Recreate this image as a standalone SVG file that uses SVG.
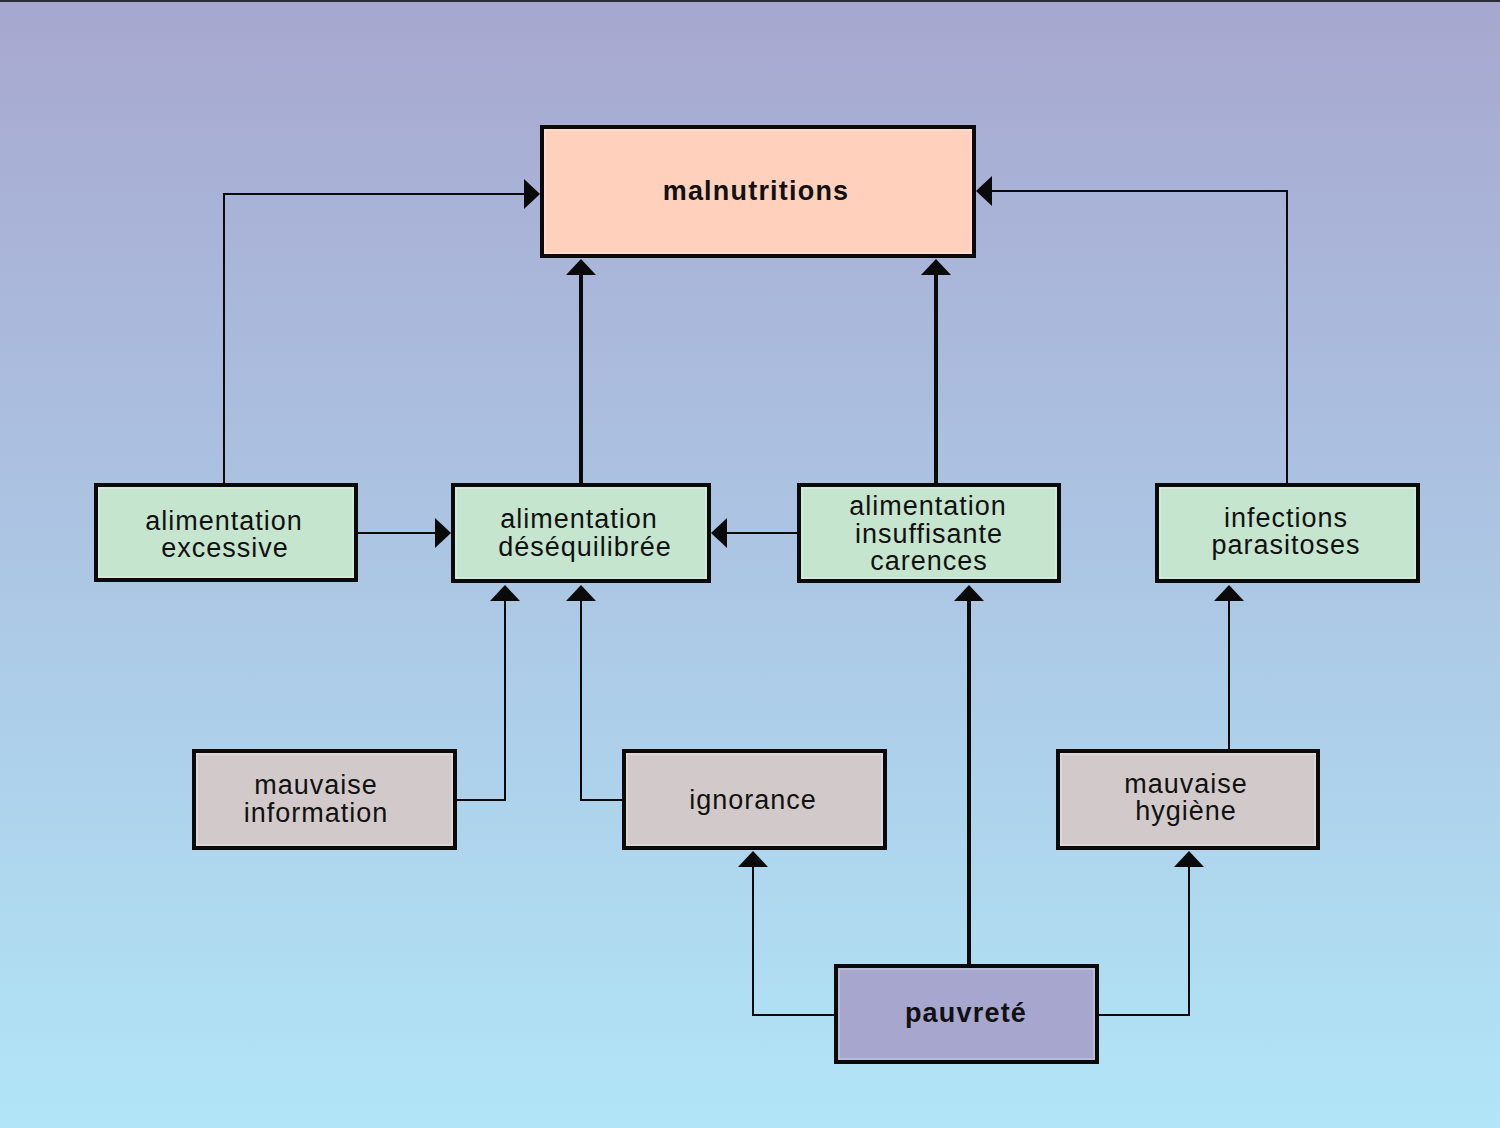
<svg xmlns="http://www.w3.org/2000/svg" width="1500" height="1128" viewBox="0 0 1500 1128">
<defs>
<linearGradient id="bg" x1="0" y1="0" x2="0" y2="1">
<stop offset="0" stop-color="#A7A7D0"/>
<stop offset="1" stop-color="#B1E5F7"/>
</linearGradient>
</defs>
<style>
.box{stroke:#0a0a0a;stroke-width:4}
.inner{fill:none;stroke:#ffffff;stroke-opacity:0.45;stroke-width:1}
.pink{fill:#FFD1BD}
.green{fill:#C6E5CF}
.grey{fill:#D2CACA}
.violet{fill:#A6A6CF}
.t{font-family:"Liberation Sans",Arial,sans-serif;font-size:27px;letter-spacing:1px;fill:#111;text-anchor:middle}
.b{font-weight:bold;letter-spacing:1.2px}
.thin{fill:none;stroke:#0a0a0a;stroke-width:2}
.thick{fill:none;stroke:#0a0a0a;stroke-width:4}
.ah{fill:#0a0a0a}
</style>
<rect x="0" y="0" width="1500" height="1128" fill="url(#bg)"/>
<rect x="0" y="0" width="1500" height="2" fill="#2a2d38"/>

<g id="connectors">
<polyline class="thin" points="224,485 224,194 526,194"/>
<polygon class="ah" points="540,194 524,179 524,209"/>
<line class="thick" x1="581" y1="485" x2="581" y2="274"/>
<polygon class="ah" points="581,259 566,275 596,275"/>
<line class="thick" x1="936" y1="485" x2="936" y2="274"/>
<polygon class="ah" points="936,259 921,275 951,275"/>
<polyline class="thin" points="1287,485 1287,191 990,191"/>
<polygon class="ah" points="976,191 992,176 992,206"/>
<line class="thin" x1="356" y1="533" x2="437" y2="533"/>
<polygon class="ah" points="451,533 435,518 435,548"/>
<line class="thin" x1="799" y1="533" x2="725" y2="533"/>
<polygon class="ah" points="711,533 727,518 727,548"/>
<polyline class="thin" points="455,800 505,800 505,600"/>
<polygon class="ah" points="505,585 490,601 520,601"/>
<polyline class="thin" points="624,800 581,800 581,600"/>
<polygon class="ah" points="581,585 566,601 596,601"/>
<line class="thick" x1="969" y1="966" x2="969" y2="600"/>
<polygon class="ah" points="969,585 954,601 984,601"/>
<polyline class="thin" points="836,1015 753,1015 753,866"/>
<polygon class="ah" points="753,851 738,867 768,867"/>
<polyline class="thin" points="1097,1015 1189,1015 1189,866"/>
<polygon class="ah" points="1189,851 1174,867 1204,867"/>
<line class="thin" x1="1229" y1="751" x2="1229" y2="600"/>
<polygon class="ah" points="1229,585 1214,601 1244,601"/>
</g>

<g id="malnutritions">
<rect class="box pink" x="542" y="127" width="432" height="129"/>
<rect class="inner" x="545" y="130" width="426" height="123"/>
<text class="t b" x="756" y="200">malnutritions</text>
</g>

<g id="alimentation-excessive">
<rect class="box green" x="96" y="485" width="260" height="95"/>
<rect class="inner" x="99" y="488" width="254" height="89"/>
<text class="t" x="224" y="530">alimentation</text>
<text class="t" x="225" y="557">excessive</text>
</g>

<g id="alimentation-desequilibree">
<rect class="box green" x="453" y="485" width="256" height="96"/>
<rect class="inner" x="456" y="488" width="250" height="90"/>
<text class="t" x="579" y="528">alimentation</text>
<text class="t" x="585" y="556">déséquilibrée</text>
</g>

<g id="alimentation-insuffisante">
<rect class="box green" x="799" y="485" width="260" height="96"/>
<rect class="inner" x="802" y="488" width="254" height="90"/>
<text class="t" x="928" y="515">alimentation</text>
<text class="t" x="929" y="543">insuffisante</text>
<text class="t" x="929" y="570">carences</text>
</g>

<g id="infections">
<rect class="box green" x="1157" y="485" width="261" height="96"/>
<rect class="inner" x="1160" y="488" width="255" height="90"/>
<text class="t" x="1286" y="527">infections</text>
<text class="t" x="1286" y="554">parasitoses</text>
</g>

<g id="mauvaise-information">
<rect class="box grey" x="194" y="751" width="261" height="97"/>
<rect class="inner" x="197" y="754" width="255" height="91"/>
<text class="t" x="316" y="794">mauvaise</text>
<text class="t" x="316" y="822">information</text>
</g>

<g id="ignorance">
<rect class="box grey" x="624" y="751" width="261" height="97"/>
<rect class="inner" x="627" y="754" width="255" height="91"/>
<text class="t" x="753" y="809">ignorance</text>
</g>

<g id="mauvaise-hygiene">
<rect class="box grey" x="1058" y="751" width="260" height="97"/>
<rect class="inner" x="1061" y="754" width="254" height="91"/>
<text class="t" x="1186" y="793">mauvaise</text>
<text class="t" x="1186" y="820">hygiène</text>
</g>

<g id="pauvrete">
<rect class="box violet" x="836" y="966" width="261" height="96"/>
<rect class="inner" x="839" y="969" width="255" height="90"/>
<text class="t b" x="966" y="1022">pauvreté</text>
</g>
</svg>
